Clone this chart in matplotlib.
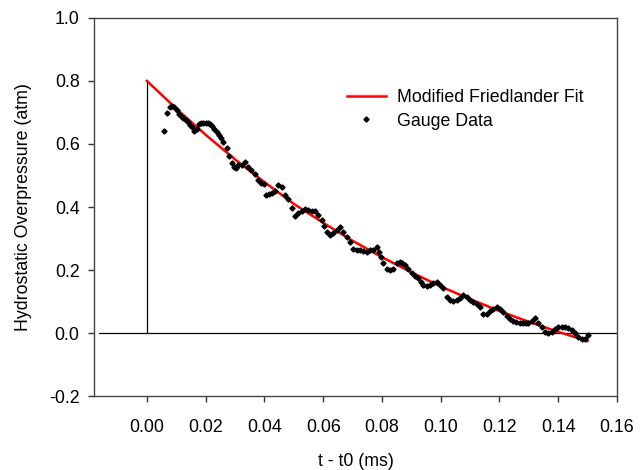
import numpy as np
import matplotlib
matplotlib.use("Agg")
import matplotlib.pyplot as plt

plt.rcParams['font.family'] = ['Liberation Sans', 'DejaVu Sans']

# modified friedlander fit, every 0.01 ms
fit_t = [0.00, 0.01, 0.02, 0.03, 0.04, 0.05, 0.06, 0.07,
         0.08, 0.09, 0.10, 0.11, 0.12, 0.13, 0.14, 0.15]
fit_p = [0.800, 0.712, 0.629, 0.551, 0.479, 0.410, 0.350, 0.293,
         0.241, 0.193, 0.148, 0.108, 0.070, 0.036, 0.004, -0.025]

# gauge samples
gauge_t = [0.0059, 0.0070, 0.0078, 0.0086, 0.0093, 0.0101, 0.0109, 0.0116, 0.0124, 0.0132,
           0.0139, 0.0146, 0.0154, 0.0161, 0.0169, 0.0177, 0.0184, 0.0192, 0.0200, 0.0207,
           0.0214, 0.0222, 0.0229, 0.0237, 0.0245, 0.0253, 0.0260, 0.0271, 0.0280, 0.0288,
           0.0296, 0.0304, 0.0311, 0.0322, 0.0334, 0.0345, 0.0356, 0.0368, 0.0379, 0.0390,
           0.0398, 0.0407, 0.0416, 0.0425, 0.0436, 0.0447, 0.0459, 0.0470, 0.0481, 0.0493,
           0.0504, 0.0515, 0.0527, 0.0538, 0.0549, 0.0561, 0.0572, 0.0583, 0.0595, 0.0604,
           0.0612, 0.0623, 0.0634, 0.0646, 0.0657, 0.0668, 0.0680, 0.0691, 0.0702, 0.0714,
           0.0725, 0.0737, 0.0748, 0.0759, 0.0770, 0.0784, 0.0790, 0.0798, 0.0805, 0.0816,
           0.0827, 0.0839, 0.0850, 0.0861, 0.0870, 0.0878, 0.0890, 0.0901, 0.0913, 0.0924,
           0.0933, 0.0941, 0.0952, 0.0963, 0.0975, 0.0986, 0.0997, 0.1009, 0.1020, 0.1031,
           0.1043, 0.1054, 0.1066, 0.1077, 0.1088, 0.1100, 0.1111, 0.1122, 0.1134, 0.1145,
           0.1156, 0.1167, 0.1179, 0.1190, 0.1202, 0.1213, 0.1225, 0.1236, 0.1247, 0.1258,
           0.1270, 0.1280, 0.1290, 0.1298, 0.1310, 0.1321, 0.1332, 0.1344, 0.1355, 0.1366,
           0.1378, 0.1389, 0.1400, 0.1412, 0.1423, 0.1434, 0.1446, 0.1457, 0.1468, 0.1480,
           0.1491, 0.1500]
gauge_p = [0.641, 0.698, 0.717, 0.722, 0.718, 0.708, 0.695, 0.689, 0.682, 0.676,
           0.669, 0.660, 0.653, 0.642, 0.647, 0.663, 0.666, 0.666, 0.666, 0.665,
           0.663, 0.656, 0.648, 0.639, 0.629, 0.618, 0.607, 0.588, 0.562, 0.539,
           0.527, 0.523, 0.533, 0.533, 0.542, 0.528, 0.517, 0.504, 0.485, 0.477,
           0.472, 0.438, 0.441, 0.446, 0.452, 0.470, 0.464, 0.438, 0.427, 0.396,
           0.373, 0.380, 0.388, 0.394, 0.390, 0.389, 0.386, 0.375, 0.359, 0.340,
           0.322, 0.311, 0.317, 0.327, 0.337, 0.322, 0.306, 0.290, 0.268, 0.263,
           0.263, 0.262, 0.258, 0.263, 0.263, 0.272, 0.258, 0.240, 0.221, 0.205,
           0.200, 0.205, 0.221, 0.226, 0.222, 0.216, 0.203, 0.190, 0.182, 0.174,
           0.162, 0.152, 0.150, 0.152, 0.160, 0.163, 0.152, 0.142, 0.115, 0.105,
           0.103, 0.104, 0.110, 0.121, 0.115, 0.106, 0.099, 0.092, 0.084, 0.062,
           0.062, 0.070, 0.078, 0.084, 0.078, 0.066, 0.054, 0.046, 0.039, 0.035,
           0.033, 0.031, 0.031, 0.031, 0.039, 0.047, 0.031, 0.018, 0.004, 0.001,
           0.004, 0.012, 0.020, 0.020, 0.018, 0.015, 0.010, 0.001, -0.012, -0.020,
           -0.017, -0.006]

fig = plt.figure(figsize=(6.44, 4.70), dpi=100)
ax = fig.add_axes([0.146, 0.157, 0.812, 0.805])

ax.axhline(0, xmin=0.01, color='black', lw=0.9, zorder=1)
ax.vlines(fit_t[0], 0, fit_p[0], color='black', lw=0.9, zorder=1)
ax.plot(fit_t, fit_p, color='#ff0000', lw=1.8, label='Modified Friedlander Fit', zorder=2)
ax.plot(gauge_t, gauge_p, ls='none', marker='D', ms=2.6, color='black',
        label='Gauge Data', zorder=3)

ax.set_xlim(-0.018, 0.16)
ax.set_ylim(-0.2, 1.0)
ax.set_xticks(np.arange(0, 0.161, 0.02))
ax.set_yticks(np.arange(-0.2, 1.01, 0.2))
ax.xaxis.set_major_formatter(plt.FormatStrFormatter('%.2f'))
ax.yaxis.set_major_formatter(plt.FormatStrFormatter('%.1f'))
ax.tick_params(direction='out', length=4, width=1, colors='#333333',
               labelcolor='black', labelsize=12.8)
ax.tick_params(axis='x', pad=12.5)
ax.tick_params(axis='y', pad=6.4)
for s in ax.spines.values():
    s.set_color('#444444')
    s.set_linewidth(1)

ax.set_xlabel('t - t0 (ms)', fontsize=12.8, labelpad=12)
ax.set_ylabel('Hydrostatic Overpressure (atm)', fontsize=12.8, labelpad=12)

ax.legend(loc='upper left', bbox_to_anchor=(0.47, 0.83), frameon=False,
          fontsize=12.8, handlelength=2.2, handletextpad=0.6, labelspacing=0.35,
          borderaxespad=0)

fig.savefig('out.png', dpi=100)
